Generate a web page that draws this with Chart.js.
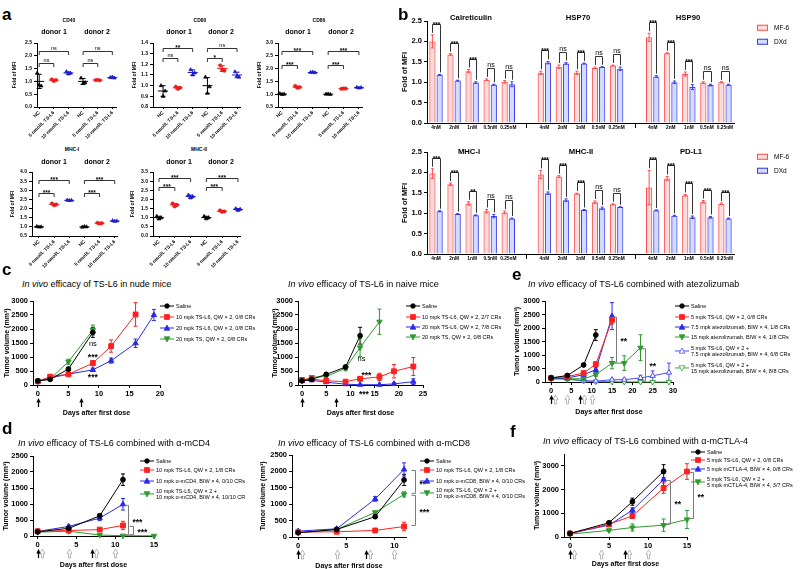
<!DOCTYPE html>
<html>
<head>
<meta charset="utf-8">
<script src="https://cdn.jsdelivr.net/npm/chart.js@4.4.1/dist/chart.umd.min.js"></script>
<style>
  body { margin: 0; width: 800px; height: 569px; position: relative; overflow: hidden; background: #fff;
         font-family: "Liberation Sans", Arial, sans-serif; color: #000; }
  canvas { position: absolute; }
  .t { position: absolute; white-space: nowrap; line-height: 1; }
  .lg { position: absolute; display: flex; align-items: center; white-space: nowrap; font-size: 5.5px; line-height: 1.1; }
  .lg svg { flex: none; }
</style>
</head>
<body>
<script>
// ---------- a: fold of MFI, three replicates per group ----------
const aGroups = ['NC', '5 nmol/L TS-L6', '10 nmol/L TS-L6', 'NC', '5 nmol/L TS-L6', '10 nmol/L TS-L6'];
const aCd40 = [[1.32, 0.86, 0.82], [1.08, 1.02, 1.05], [1.38, 1.29, 1.32], [1.13, 0.92, 0.95], [1.05, 1.06, 1.04], [1.15, 1.17, 1.13]];
const aCd80 = [[1.0, 0.9, 0.95], [0.99, 0.97, 0.98], [1.15, 1.1, 1.12], [1.08, 0.93, 0.99], [1.19, 1.15, 1.14], [1.13, 1.09, 1.08]];
const aCd86 = [[1.02, 0.99, 1.0], [1.32, 1.25, 1.27], [1.85, 1.86, 1.84], [1.0, 1.01, 0.99], [1.21, 1.22, 1.22], [1.27, 1.24, 1.26]];
const aMhc1 = [[1.02, 0.99, 1.0], [2.28, 2.18, 2.22], [2.46, 2.44, 2.45], [0.98, 1.02, 1.0], [1.22, 1.18, 1.2], [1.34, 1.3, 1.32]];
const aMhc2 = [[1.08, 0.93, 1.0], [1.78, 1.62, 1.7], [2.24, 2.08, 2.15], [1.08, 0.94, 1.0], [1.4, 1.32, 1.34], [1.5, 1.4, 1.46]];
// donor 1 NC vs 5, NC vs 10, donor 2 NC vs 5, NC vs 10
const aCd40Sig = ['ns', 'ns', 'ns', 'ns'];
const aCd80Sig = ['ns', '**', '*', 'ns'];
const aCd86Sig = ['***', '***', '***', '***'];
const aMhc1Sig = ['***', '***', '***', '***'];
const aMhc2Sig = ['***', '***', '***', '***'];

// ---------- b: MF-6 vs DXd ----------
const bDoses = ['4nM', '2nM', '1nM', '0.5nM', '0.25nM'];
const bCalMf = [2.0, 1.68, 1.27, 1.06, 1.01], bCalMfErr = [0.16, 0.02, 0.04, 0.02, 0.03];
const bCalDx = [1.18, 1.04, 0.99, 0.94, 0.95], bCalDxErr = [0.01, 0.01, 0.02, 0.01, 0.06];
const bCalSig = ['***', '***', '***', 'ns', 'ns'];
const bHsp70Mf = [1.23, 1.38, 1.23, 1.35, 1.41], bHsp70MfErr = [0.04, 0.04, 0.04, 0.02, 0.01];
const bHsp70Dx = [1.48, 1.46, 1.46, 1.37, 1.33], bHsp70DxErr = [0.03, 0.02, 0.01, 0.01, 0.04];
const bHsp70Sig = ['***', 'ns', '***', 'ns', 'ns'];
const bHsp90Mf = [2.1, 1.71, 1.2, 0.99, 1.0], bHsp90MfErr = [0.1, 0.01, 0.05, 0.02, 0.01];
const bHsp90Dx = [1.14, 1.0, 0.88, 0.93, 0.94], bHsp90DxErr = [0.02, 0.03, 0.06, 0.02, 0.01];
const bHsp90Sig = ['***', '***', '***', 'ns', 'ns'];
const bMhc1Mf = [1.97, 1.71, 1.24, 1.05, 1.02], bMhc1MfErr = [0.12, 0.03, 0.04, 0.04, 0.03];
const bMhc1Dx = [1.05, 0.98, 0.95, 0.93, 0.87], bMhc1DxErr = [0.01, 0.01, 0.01, 0.04, 0.01];
const bMhc1Sig = ['***', '***', '**', 'ns', 'ns'];
const bMhc2Mf = [1.95, 1.9, 1.48, 1.27, 1.22], bMhc2MfErr = [0.1, 0.02, 0.01, 0.03, 0.01];
const bMhc2Dx = [1.49, 1.32, 1.08, 1.12, 1.15], bMhc2DxErr = [0.03, 0.03, 0.01, 0.03, 0.01];
const bMhc2Sig = ['***', '***', '***', 'ns', 'ns'];
const bPdl1Mf = [1.63, 1.85, 1.44, 1.28, 1.23], bPdl1MfErr = [0.42, 0.05, 0.02, 0.03, 0.02];
const bPdl1Dx = [1.07, 0.94, 0.9, 0.9, 0.87], bPdl1DxErr = [0.01, 0.01, 0.03, 0.02, 0.01];
const bPdl1Sig = ['***', '***', '***', '***', '***'];

// ---------- c: nude / naive mice ----------
const cNudeDays = [0, 2, 5, 9, 12, 16, 19];
const cNudeSaline = [150, 200, 570, 1880, null, null, null], cNudeSalineErr = [30, 40, 60, 180];
const cNudeTsl6Lo = [130, 300, 380, 780, 1390, 2520, null], cNudeTsl6LoErr = [20, 50, 40, 90, 220, 420];
const cNudeTsl6Hi = [130, 250, 390, 540, 870, 1490, 2500], cNudeTsl6HiErr = [20, 40, 40, 60, 90, 150, 200];
const cNudeTs = [130, 220, 830, 1960, null, null, null], cNudeTsErr = [20, 40, 90, 180];
const cNudeTicks = [0, 5, 10, 15, 20];
const cNudeLabels = ['Saline', '10 mpk TS-L6, QW × 2, 0/8 CRs', '20 mpk TS-L6, QW × 2, 0/8 CRs', '20 mpk TS, QW × 2, 0/8 CRs'];

const cNaiveDays = [0, 2, 5, 9, 12, 16, 19, 23];
const cNaiveSaline = [150, 200, 380, 640, 1760], cNaiveSalineErr = [20, 30, 50, 70, 300];
const cNaiveTsl6Lo = [180, 210, 150, 120, 220, 290, 490, 660], cNaiveTsl6LoErr = [20, 30, 30, 30, 60, 130, 240, 320];
const cNaiveTsl6Hi = [150, 170, 100, 30, 10, 10, 40, 120], cNaiveTsl6HiErr = [20, 30, 20, 10, 5, 5, 40, 100];
const cNaiveTs = [150, 280, 300, 600, 1340, 2260], cNaiveTsErr = [20, 30, 40, 90, 320, 450];
const cNaiveTicks = [0, 5, 10, 15, 20, 25];
const cNaiveLabels = ['Saline', '10 mpk TS-L6, QW × 2, 2/7 CRs', '20 mpk TS-L6, QW × 2, 7/8 CRs', '20 mpk TS, QW × 2, 0/8 CRs'];
const cDoseTsl6 = [0, 7];

// ---------- e: atezolizumab ----------
const eDays = [0, 4, 8, 11, 15, 18, 22, 25, 29];
const eSaline = [150, 240, 630, 1740], eSalineErr = [20, 30, 40, 200];
const eTsl6 = [150, 200, 330, 660, 2300], eTsl6Err = [20, 30, 40, 80, 150];
const eAtezo75 = [150, 150, 270, 450, 2440], eAtezo75Err = [20, 30, 40, 100, 500];
const eAtezo15 = [120, 120, 120, 270, 700, 700, 1270], eAtezo15Err = [20, 20, 20, 60, 210, 270, 480];
const eCombo75 = [140, 120, 50, 30, 85, 85, 150, 230, 350], eCombo75Err = [20, 20, 20, 20, 30, 40, 100, 180, 350];
const eCombo15 = [120, 100, 40, 15, 10, 5, 5, 0, 0], eCombo15Err = [20, 20, 10, 5, 5, 5, 5, 0, 0];
const eTicks = [0, 5, 10, 15, 20, 25, 30];
const eLabels = ['Saline', '5 mpk TS-L6, QW × 2, 0/8 CRs', '7.5 mpk atezolizumab, BIW × 4, 1/8 CRs',
  '15 mpk atezolizumab, BIW × 4, 1/8 CRs', '5 mpk TS-L6, QW × 2 +\n7.5 mpk atezolizumab, BIW × 4, 6/8 CRs',
  '5 mpk TS-L6, QW × 2 +\n15 mpk atezolizumab, BIW × 4, 8/8 CRs'];

// ---------- d: CD4 / CD8 depletion ----------
const dCd4Days = [0, 4, 8, 11, 15];
const dCd4Saline = [130, 240, 630, 1760], dCd4SalineErr = [20, 40, 60, 180];
const dCd4Tsl6 = [150, 170, 200, 330], dCd4Tsl6Err = [20, 30, 40, 130];
const dCd4Ab = [140, 300, 560, 990], dCd4AbErr = [20, 40, 80, 180];
const dCd4Combo = [120, 150, 30, 10, 5], dCd4ComboErr = [20, 30, 10, 5, 5];
const dCd4Ticks = [0, 5, 10, 15];
const dCd4Labels = ['Saline', '10 mpk TS-L6, QW × 2, 1/8 CRs', '10 mpk α-mCD4, BIW × 4, 0/10 CRs', '10 mpk TS-L6, QW × 2 +\n10 mpk α-mCD4, BIW × 4, 10/10 CR'];

const dCd8Days = [0, 4, 8, 11];
const dCd8Saline = [130, 230, 620, 1740], dCd8SalineErr = [20, 30, 50, 170];
const dCd8Tsl6 = [150, 160, 200, 320], dCd8Tsl6Err = [20, 30, 50, 130];
const dCd8Ab = [180, 250, 1160, 2060], dCd8AbErr = [20, 30, 70, 200];
const dCd8Combo = [130, 230, 750, 1300], dCd8ComboErr = [20, 30, 40, 80];
const dCd8Ticks = [0, 5, 10];
const dCd8Labels = ['Saline', '10 mpk TS-L6, QW × 2, 1/8 CRs', '10 mpk α-mCD8, BIW × 4, 0/10 CRs', '10 mpk TS-L6, QW × 2 +\n10 mpk α-mCD8, BIW × 4, 0/10 CRs'];

// ---------- f: mCTLA-4 ----------
const fDays = [0, 5, 8, 12, 15];
const fSaline = [150, 600, 1490, 2770], fSalineErr = [20, 40, 150, 280];
const fTsl6 = [150, 540, 890, 2060, 2760], fTsl6Err = [20, 40, 100, 220, 330];
const fCtla4 = [150, 500, 1130, 2420], fCtla4Err = [20, 40, 100, 250];
const fCombo = [120, 280, 400, 500, 740], fComboErr = [20, 50, 150, 260, 380];
const fTicks = [0, 5, 10, 15];
const fLabels = ['Saline', '5 mpk TS-L6, QW × 2, 0/8 CRs', '5 mpk mCTLA-4,  BIW × 4, 0/8 CRs', '5 mpk TS-L6, QW × 2 +\n5 mpk mCTLA-4, BIW × 4, 3/7 CRs'];

// dosing days (black = TS-L6, grey = antibody)
const doseTsl6 = [0, 7];
const doseAb = [0, 4, 7, 10];

// =====================================================================
const FONT = '"Liberation Sans", Arial, sans-serif';
Chart.defaults.font.family = FONT;
Chart.defaults.color = '#000';

// canvas placed so that its chart area lands on box.x/y/w/h
function place(box, config) {
  const W = box.w + box.l + box.r, H = box.h + box.t + box.b;
  const cv = document.createElement('canvas');
  cv.width = W; cv.height = H;
  Object.assign(cv.style, {left: (box.x - box.l) + 'px', top: (box.y - box.t) + 'px', width: W + 'px', height: H + 'px'});
  document.body.appendChild(cv);
  const o = config.options;
  o.responsive = false; o.animation = false; o.devicePixelRatio = 1;
  o.layout = {padding: {top: box.t, right: box.r, left: 0, bottom: 0}};
  o.scales.x.afterFit = s => { s.height = box.b; };
  o.scales.y.afterFit = s => { s.width = box.l; };
  o.plugins = Object.assign({legend: {display: false}, tooltip: {enabled: false}}, o.plugins || {});
  return new Chart(cv, config);
}

function valueAxis(min, max, step, size, title, titleSize, digits) {
  return {
    type: 'linear', min, max,
    ticks: {stepSize: step, font: {size, weight: 'bold'}, padding: 2, callback: v => digits == null ? v : v.toFixed(digits)},
    grid: {drawOnChartArea: false, color: '#000', tickLength: 3},
    border: {color: '#000', width: 1},
    title: {display: true, text: title, font: {size: titleSize, weight: 'bold'}, padding: 0}
  };
}

function txt(html, x, y, size, bold, center) {
  const d = document.createElement('div');
  d.className = 't';
  d.innerHTML = html;
  d.style.fontSize = size + 'px';
  d.style.left = x + 'px';
  d.style.top = y + 'px';
  if (bold) d.style.fontWeight = 'bold';
  d.style.transform = center ? 'translate(-50%,-50%)' : 'translateY(-50%)';
  document.body.appendChild(d);
}

function letter(ch, x, baseline) {
  const d = document.createElement('div');
  d.className = 't';
  d.textContent = ch;
  Object.assign(d.style, {fontSize: '17px', fontWeight: 'bold', left: x + 'px', top: (baseline - 14.4) + 'px'});
  document.body.appendChild(d);
}

function errorBars(onTop) {
  const draw = chart => {
    const {ctx, scales: {y}} = chart;
    ctx.save();
    ctx.lineWidth = 1;
    chart.data.datasets.forEach((ds, i) => {
      if (!ds.err) return;
      const meta = chart.getDatasetMeta(i);
      ctx.strokeStyle = ds.borderColor;
      ds.data.forEach((v, j) => {
        const e = ds.err[j];
        if (v == null || !e) return;
        const px = meta.data[j].x;
        const hi = y.getPixelForValue(v + e), lo = y.getPixelForValue(Math.max(v - e, y.min));
        const c = onTop ? 1.5 : 2;
        ctx.beginPath();
        ctx.moveTo(px, hi); ctx.lineTo(px, lo);
        ctx.moveTo(px - c, hi); ctx.lineTo(px + c, hi);
        ctx.moveTo(px - c, lo); ctx.lineTo(px + c, lo);
        ctx.stroke();
      });
    });
    ctx.restore();
  };
  return onTop ? {id: 'errTop', afterDatasetsDraw: draw} : {id: 'errUnder', beforeDatasetsDraw: draw};
}

// ---------- panel a ----------
const aColors = ['#000', '#ee1c1c', '#1c1ccc'];
const aShapes = ['triangle', 'circle', 'triangle'];

function meanSd(groups, sig, levels) {
  return {
    id: 'meanSd',
    afterDatasetsDraw(chart) {
      const {ctx, scales: {x, y}} = chart;
      ctx.save();
      ctx.lineWidth = 1;
      groups.forEach((vals, g) => {
        const m = vals.reduce((a, b) => a + b, 0) / vals.length;
        const sd = Math.sqrt(vals.reduce((a, b) => a + (b - m) ** 2, 0) / (vals.length - 1));
        const px = x.getPixelForValue(g);
        const hi = y.getPixelForValue(m + sd), lo = y.getPixelForValue(m - sd), pm = y.getPixelForValue(m);
        ctx.strokeStyle = aColors[g % 3];
        ctx.beginPath();
        ctx.moveTo(px - 5, pm); ctx.lineTo(px + 5, pm);
        ctx.moveTo(px, hi); ctx.lineTo(px, lo);
        ctx.moveTo(px - 2.5, hi); ctx.lineTo(px + 2.5, hi);
        ctx.moveTo(px - 2.5, lo); ctx.lineTo(px + 2.5, lo);
        ctx.stroke();
      });
      const pairs = [[0, 1, levels[0]], [0, 2, levels[1]], [3, 4, levels[0]], [3, 5, levels[1]]];
      ctx.strokeStyle = '#333';
      ctx.fillStyle = '#000';
      ctx.textAlign = 'center';
      ctx.textBaseline = 'alphabetic';
      pairs.forEach(([i, j, f], k) => {
        const py = Math.round(y.top + (1 - f) * (y.bottom - y.top)) + 0.5;
        const x1 = x.getPixelForValue(i), x2 = x.getPixelForValue(j);
        ctx.beginPath();
        ctx.moveTo(x1, py + 3.5); ctx.lineTo(x1, py); ctx.lineTo(x2, py); ctx.lineTo(x2, py + 3.5);
        ctx.stroke();
        const s = sig[k];
        ctx.font = s === 'ns' ? '5.5px ' + FONT : 'bold 6.5px ' + FONT;
        ctx.fillText(s, (x1 + x2) / 2, s === 'ns' ? py - 1.5 : py + 1.8);
      });
      ctx.restore();
    }
  };
}

function dotChart(box, groups, sig, yr, xr, levels) {
  const spread = [-0.14, 0, 0.14];
  const datasets = [0, 1, 2].map(k => ({
    data: groups.flatMap((vals, g) => g % 3 === k ? vals.map((v, r) => ({x: g + spread[r], y: v})) : []),
    pointStyle: aShapes[k], pointRadius: k === 1 ? 1.7 : 2.1,
    backgroundColor: aColors[k], borderColor: aColors[k], pointBorderWidth: 0.6, clip: false
  }));
  return place(box, {
    type: 'scatter',
    data: {datasets},
    options: {
      scales: {
        x: {type: 'linear', min: xr[0], max: xr[1],
            afterBuildTicks: s => { s.ticks = aGroups.map((_, i) => ({value: i})); },
            ticks: {callback: v => aGroups[v], minRotation: 45, maxRotation: 45, autoSkip: false, font: {size: 4.8, weight: 'bold'}, padding: 1},
            grid: {drawOnChartArea: false, color: '#000', tickLength: 2}, border: {color: '#000'}},
        y: valueAxis(yr[0], yr[1], yr[2], 5, 'Fold of MFI', 5, 1)
      }
    },
    plugins: [meanSd(groups, sig, levels)]
  });
}

dotChart({x: 37, y: 43, w: 79, h: 64, l: 25, b: 34, t: 8, r: 8}, aCd40, aCd40Sig, [0, 2.5, 0.5], [-0.15, 5.25], [0.68, 0.88]);
dotChart({x: 153, y: 43, w: 87, h: 64, l: 21, b: 34, t: 8, r: 8}, aCd80, aCd80Sig, [0.8, 1.4, 0.1], [-0.68, 5.2], [0.77, 0.92]);
dotChart({x: 278, y: 43, w: 84, h: 64, l: 21, b: 34, t: 8, r: 8}, aCd86, aCd86Sig, [0.5, 3.0, 0.5], [-0.26, 5.2], [0.66, 0.88]);
dotChart({x: 32, y: 172, w: 85, h: 64, l: 22, b: 34, t: 8, r: 8}, aMhc1, aMhc1Sig, [0.5, 4.0, 0.5], [-0.46, 5.15], [0.67, 0.87]);
dotChart({x: 153, y: 172, w: 87, h: 64, l: 23, b: 34, t: 8, r: 8}, aMhc2, aMhc2Sig, [0, 3.5, 0.5], [-0.38, 5.13], [0.76, 0.91]);

// ---------- panel b ----------
const bRed = '#ff4d4d', bBlue = '#3b3bf0';
function fmfiChart(box, parts) {
  const labels = [], mf = [], mfErr = [], dx = [], dxErr = [], sig = [];
  parts.forEach((p, k) => {
    if (k) { labels.push(''); mf.push(null); mfErr.push(null); dx.push(null); dxErr.push(null); sig.push(null); }
    labels.push(...bDoses); mf.push(...p[0]); mfErr.push(...p[1]); dx.push(...p[2]); dxErr.push(...p[3]); sig.push(...p[4]);
  });
  const bar = (label, data, err, color, fill) => ({label, data, err, borderColor: color, backgroundColor: fill, borderWidth: 1, barPercentage: 0.86, categoryPercentage: 0.8});
  return place(box, {
    type: 'bar',
    data: {labels, datasets: [bar('MF-6', mf, mfErr, bRed, 'rgba(255,120,120,0.25)'), bar('DXd', dx, dxErr, bBlue, 'rgba(110,140,255,0.3)')]},
    options: {
      scales: {
        x: {ticks: {font: {size: 4.8, weight: 'bold'}, padding: 2, maxRotation: 0, autoSkip: false},
            grid: {display: false, drawTicks: false, tickLength: 0}, border: {color: '#000'}},
        y: valueAxis(0, 2.5, 0.5, 7.5, 'Fold of MFI', 7.5, 1)
      }
    },
    plugins: [errorBars(true), {
      id: 'bSig',
      afterDraw(chart) {
        const {ctx, scales: {x, y}} = chart;
        const a = chart.getDatasetMeta(0).data, b = chart.getDatasetMeta(1).data;
        ctx.save();
        ctx.strokeStyle = '#333'; ctx.lineWidth = 1; ctx.fillStyle = '#000'; ctx.textAlign = 'center';
        sig.forEach((s, i) => {
          if (!s) return;
          const ta = mf[i] + mfErr[i], tb = dx[i] + dxErr[i];
          const top = Math.round(y.getPixelForValue(Math.max(ta, tb) + 0.27)) + 0.5;
          const xa = Math.round(a[i].x) + 0.5, xb = Math.round(b[i].x) + 0.5;
          ctx.beginPath();
          ctx.moveTo(xa, y.getPixelForValue(ta + 0.05)); ctx.lineTo(xa, top); ctx.lineTo(xb, top); ctx.lineTo(xb, y.getPixelForValue(tb + 0.05));
          ctx.stroke();
          ctx.font = s === 'ns' ? '7px ' + FONT : 'bold 6.5px ' + FONT;
          ctx.fillText(s, (xa + xb) / 2, s === 'ns' ? top - 2 : top + 2);
        });
        ctx.strokeStyle = '#000';
        chart.data.labels.forEach((l, i) => {
          if (l) return;
          const px = Math.round(x.getPixelForValue(i)) + 0.5;
          ctx.beginPath(); ctx.moveTo(px, y.bottom + 1); ctx.lineTo(px, y.bottom + 5); ctx.stroke();
        });
        ctx.restore();
      }
    }]
  });
}

fmfiChart({x: 427, y: 21, w: 307, h: 102, l: 27, b: 12, t: 12, r: 6}, [
  [bCalMf, bCalMfErr, bCalDx, bCalDxErr, bCalSig],
  [bHsp70Mf, bHsp70MfErr, bHsp70Dx, bHsp70DxErr, bHsp70Sig],
  [bHsp90Mf, bHsp90MfErr, bHsp90Dx, bHsp90DxErr, bHsp90Sig]]);
fmfiChart({x: 427, y: 152, w: 307, h: 102, l: 27, b: 12, t: 12, r: 6}, [
  [bMhc1Mf, bMhc1MfErr, bMhc1Dx, bMhc1DxErr, bMhc1Sig],
  [bMhc2Mf, bMhc2MfErr, bMhc2Dx, bMhc2DxErr, bMhc2Sig],
  [bPdl1Mf, bPdl1MfErr, bPdl1Dx, bPdl1DxErr, bPdl1Sig]]);

// ---------- tumour growth panels ----------
function arrow(ctx, px, top, bottom, solid) {
  px = Math.round(px) + 0.5;
  if (solid) {
    ctx.strokeStyle = '#000'; ctx.fillStyle = '#000'; ctx.lineWidth = 1.2;
    ctx.beginPath(); ctx.moveTo(px, bottom); ctx.lineTo(px, top + 3); ctx.stroke();
    ctx.beginPath(); ctx.moveTo(px, top); ctx.lineTo(px - 2.2, top + 4.5); ctx.lineTo(px + 2.2, top + 4.5); ctx.closePath(); ctx.fill();
  } else {
    ctx.strokeStyle = '#a8a8a8'; ctx.lineWidth = 0.8;
    ctx.beginPath();
    ctx.moveTo(px, top); ctx.lineTo(px + 2.5, top + 4.5); ctx.lineTo(px + 1, top + 4.5); ctx.lineTo(px + 1, bottom);
    ctx.lineTo(px - 1, bottom); ctx.lineTo(px - 1, top + 4.5); ctx.lineTo(px - 2.5, top + 4.5); ctx.closePath();
    ctx.stroke();
  }
}

function growthExtras(o) {
  return {
    id: 'extras',
    afterDraw(chart) {
      const {ctx, scales: {x, y}, chartArea} = chart;
      ctx.save();
      const top = chartArea.bottom + 13, bottom = chartArea.bottom + 22;
      (o.gray || []).forEach(d => arrow(ctx, x.getPixelForValue(d) + (o.black.includes(d) ? 4 : 0), top, bottom, false));
      o.black.forEach(d => arrow(ctx, x.getPixelForValue(d), top, bottom, true));
      (o.brackets || []).forEach(b => {
        const i = chart.data.labels.indexOf(b.day);
        const va = chart.data.datasets[b.a].data[i], vb = chart.data.datasets[b.b].data[i];
        const bx = Math.round(x.getPixelForValue(b.day + b.dx)) + 0.5;
        const ya = y.getPixelForValue(va) + 1, yb = y.getPixelForValue(vb) - 1;
        ctx.strokeStyle = '#7a7a7a'; ctx.lineWidth = 1;
        ctx.beginPath(); ctx.moveTo(bx - 4, ya); ctx.lineTo(bx, ya); ctx.lineTo(bx, yb); ctx.lineTo(bx - 4, yb); ctx.stroke();
        ctx.fillStyle = '#000'; ctx.font = 'bold 8.5px ' + FONT; ctx.textAlign = 'left'; ctx.textBaseline = 'alphabetic';
        ctx.fillText(b.text, bx + 4, (ya + yb) / 2 + 4.7);
      });
      (o.notes || []).forEach(n => {
        const px = x.getPixelForValue(n.day), py = y.getPixelForValue(n.v);
        ctx.fillStyle = '#000'; ctx.textAlign = 'center'; ctx.textBaseline = 'alphabetic';
        if (n.text === 'ns') { ctx.font = '7.5px ' + FONT; ctx.fillText(n.text, px, py + 2.5); }
        else { ctx.font = 'bold 8.5px ' + FONT; ctx.fillText(n.text, px, py + 4.7); }
      });
      ctx.restore();
    }
  };
}

function growthChart(box, days, series, o) {
  const datasets = series.map(sr => ({
    data: sr.data, err: sr.err,
    borderColor: sr.color, backgroundColor: sr.color,
    pointBackgroundColor: sr.open ? '#fff' : sr.color, pointBorderColor: sr.color,
    pointStyle: sr.shape, pointRotation: sr.down ? 180 : 0,
    pointRadius: sr.shape === 'rect' ? 3.4 : sr.shape === 'circle' ? 2.4 : 3.1,
    pointBorderWidth: 1, borderWidth: 1, clip: false
  }));
  return place(box, {
    type: 'line',
    data: {labels: days, datasets},
    options: {
      scales: {
        x: {type: 'linear', min: o.xMin, max: o.xMax,
            afterBuildTicks: sc => { sc.ticks = o.xTicks.map(v => ({value: v})); },
            ticks: {font: {size: 7.5, weight: 'bold'}, padding: 1, maxRotation: 0, autoSkip: false},
            grid: {drawOnChartArea: false, color: '#000', tickLength: 3}, border: {color: '#000'},
            title: {display: true, text: 'Days after first dose', font: {size: 7, weight: 'bold'}, padding: 0}},
        y: valueAxis(0, o.yMax, 500, 7.5, 'Tumor volume (mm³)', 7, null)
      }
    },
    plugins: [errorBars(false), growthExtras(o)]
  });
}

function markerSvg(ds) {
  const c = ds.borderColor, f = ds.pointBackgroundColor;
  let shape;
  if (ds.pointStyle === 'circle') shape = `<circle cx="7" cy="4" r="2.3" fill="${f}" stroke="${c}" stroke-width="0.8"/>`;
  else if (ds.pointStyle === 'rect') shape = `<rect x="4.6" y="1.6" width="4.8" height="4.8" fill="${f}" stroke="${c}" stroke-width="0.8"/>`;
  else if (ds.pointRotation) shape = `<polygon points="7,7 9.8,1.8 4.2,1.8" fill="${f}" stroke="${c}" stroke-width="0.8"/>`;
  else shape = `<polygon points="7,1 9.8,6.2 4.2,6.2" fill="${f}" stroke="${c}" stroke-width="0.8"/>`;
  return `<svg width="14" height="8" viewBox="0 0 14 8"><line x1="0" y1="4" x2="14" y2="4" stroke="${c}" stroke-width="1"/>${shape}</svg>`;
}

function legend(chart, x, ys, labels) {
  chart.data.datasets.forEach((ds, i) => {
    const row = document.createElement('div');
    row.className = 'lg';
    row.style.left = (x - 7) + 'px';
    row.style.top = ys[i] + 'px';
    row.style.transform = 'translateY(-50%)';
    row.innerHTML = markerSvg(ds) + '<span style="margin-left:2px">' + labels[i].replace('\n', '<br>') + '</span>';
    document.body.appendChild(row);
  });
}

const K = '#000', R = '#ff2020', B = '#2a2ae6', G = '#2e9a2e', BO = '#4a4aff', GO = '#3aa63a';
const sr = (data, err, color, shape, extra) => Object.assign({data, err, color, shape}, extra || {});

const cNude = growthChart({x: 33, y: 301, w: 127, h: 84, l: 30, b: 32, t: 8, r: 10}, cNudeDays, [
  sr(cNudeSaline, cNudeSalineErr, K, 'circle'),
  sr(cNudeTsl6Lo, cNudeTsl6LoErr, R, 'rect'),
  sr(cNudeTsl6Hi, cNudeTsl6HiErr, B, 'triangle'),
  sr(cNudeTs, cNudeTsErr, G, 'triangle', {down: true})
], {xMin: -0.8, xMax: 20, xTicks: cNudeTicks, yMax: 3000, black: cDoseTsl6,
    notes: [{day: 9, v: 1500, text: 'ns'}, {day: 9, v: 1050, text: '***'}, {day: 9, v: 360, text: '***'}]});
legend(cNude, 167, [306, 317, 328, 339], cNudeLabels);

const cNaive = growthChart({x: 298, y: 301, w: 125, h: 84, l: 27, b: 32, t: 8, r: 10}, cNaiveDays, [
  sr(cNaiveSaline, cNaiveSalineErr, K, 'circle'),
  sr(cNaiveTsl6Lo, cNaiveTsl6LoErr, R, 'rect'),
  sr(cNaiveTsl6Hi, cNaiveTsl6HiErr, B, 'triangle'),
  sr(cNaiveTs, cNaiveTsErr, G, 'triangle', {down: true})
], {xMin: -0.83, xMax: 25, xTicks: cNaiveTicks, yMax: 3000, black: cDoseTsl6,
    notes: [{day: 12.3, v: 930, text: 'ns'}, {day: 13.3, v: 430, text: '***'}, {day: 12.8, v: -250, text: '***'}]});
legend(cNaive, 413, [306, 317, 327, 337], cNaiveLabels);

const eChart = growthChart({x: 545, y: 301, w: 128, h: 81, l: 32, b: 34, t: 8, r: 10}, eDays, [
  sr(eSaline, eSalineErr, K, 'circle'),
  sr(eTsl6, eTsl6Err, R, 'rect'),
  sr(eAtezo75, eAtezo75Err, B, 'triangle'),
  sr(eAtezo15, eAtezo15Err, G, 'triangle', {down: true}),
  sr(eCombo75, eCombo75Err, BO, 'triangle', {open: true}),
  sr(eCombo15, eCombo15Err, GO, 'triangle', {open: true, down: true})
], {xMin: -1.5, xMax: 30, xTicks: eTicks, yMax: 3000, black: doseTsl6, gray: doseAb,
    brackets: [{day: 15, a: 2, b: 3, dx: 1.0, text: '**'}, {day: 22, a: 3, b: 5, dx: 1.0, text: '**'}]});
legend(eChart, 682, [306, 317, 327, 337, 351, 368], eLabels);

const dCd4 = growthChart({x: 33, y: 456, w: 121, h: 80, l: 31, b: 33, t: 8, r: 10}, dCd4Days, [
  sr(dCd4Saline, dCd4SalineErr, K, 'circle'),
  sr(dCd4Tsl6, dCd4Tsl6Err, R, 'rect'),
  sr(dCd4Ab, dCd4AbErr, B, 'triangle'),
  sr(dCd4Combo, dCd4ComboErr, G, 'triangle', {down: true})
], {xMin: -0.6, xMax: 15, xTicks: dCd4Ticks, yMax: 2500, black: doseTsl6, gray: doseAb,
    brackets: [{day: 11, a: 2, b: 3, dx: 0.6, text: '***'}, {day: 11, a: 1, b: 3, dx: 1.3, text: '***'}]});
legend(dCd4, 147, [461, 470, 481, 494], dCd4Labels);

const dCd8 = growthChart({x: 292, y: 455, w: 114, h: 82, l: 33, b: 33, t: 8, r: 36}, dCd8Days, [
  sr(dCd8Saline, dCd8SalineErr, K, 'circle'),
  sr(dCd8Tsl6, dCd8Tsl6Err, R, 'rect'),
  sr(dCd8Ab, dCd8AbErr, B, 'triangle'),
  sr(dCd8Combo, dCd8ComboErr, G, 'triangle', {down: true})
], {xMin: -0.64, xMax: 11.2, xTicks: dCd8Ticks, yMax: 2500, black: doseTsl6, gray: doseAb,
    brackets: [{day: 11, a: 2, b: 3, dx: 1.1, text: '**'}, {day: 11, a: 3, b: 1, dx: 1.1, text: '***'}]});
legend(dCd8, 427, [461, 470, 481, 493], dCd8Labels);

const fChart = growthChart({x: 564, y: 454, w: 123, h: 83, l: 31, b: 31, t: 8, r: 26}, fDays, [
  sr(fSaline, fSalineErr, K, 'circle'),
  sr(fTsl6, fTsl6Err, R, 'rect'),
  sr(fCtla4, fCtla4Err, B, 'triangle'),
  sr(fCombo, fComboErr, G, 'triangle', {down: true})
], {xMin: -0.77, xMax: 15, xTicks: fTicks, yMax: 3500, black: doseTsl6, gray: doseAb,
    brackets: [{day: 12, a: 2, b: 3, dx: 0.8, text: '**'}, {day: 15, a: 1, b: 3, dx: 0.8, text: '**'}]});
legend(fChart, 698, [452, 460, 469, 482], fLabels);

// ---------- text ----------
letter('a', 2, 20); letter('b', 398, 20); letter('c', 2, 275);
letter('e', 512, 280); letter('d', 2, 434); letter('f', 510, 437);

txt('CD40', 69, 20, 5, true, true); txt('CD80', 200, 20, 5, true, true); txt('CD86', 319, 20, 5, true, true);
txt('MHC-I', 72, 149, 5, true, true); txt('MHC-II', 199, 149, 5, true, true);
[[54, 97, 31], [179, 221, 31], [298, 341, 31], [54, 97, 161], [179, 221, 161]].forEach(([d1, d2, yy]) => {
  txt('donor 1', d1, yy, 7, true, true);
  txt('donor 2', d2, yy, 7, true, true);
});

txt('Calreticulin', 471, 18, 7.7, true, true); txt('HSP70', 578, 18, 7.7, true, true); txt('HSP90', 688, 18, 7.7, true, true);
txt('MHC-I', 469, 152, 7.7, true, true); txt('MHC-II', 581, 152, 7.7, true, true); txt('PD-L1', 691, 152, 7.7, true, true);
[[28, 42], [157, 171]].forEach(([y1, y2]) => {
  txt('<span style="display:inline-block;width:9px;height:4px;border:1px solid ' + bRed + ';background:rgba(255,120,120,0.25);vertical-align:middle;margin-right:6px"></span>MF-6', 757, y1, 6.5, false, false);
  txt('<span style="display:inline-block;width:9px;height:4px;border:1px solid ' + bBlue + ';background:rgba(110,140,255,0.3);vertical-align:middle;margin-right:6px"></span>DXd', 757, y2, 6.5, false, false);
});

txt('<i>In vivo</i> efficacy of TS-L6 in nude mice', 22, 284, 9, false, false);
txt('<i>In vivo</i> efficacy of TS-L6 in naive mice', 288, 284, 9, false, false);
txt('<i>In vivo</i> efficacy of TS-L6 combined with atezolizumab', 528, 284, 9, false, false);
txt('<i>In vivo</i> efficacy of TS-L6 combined with α-mCD4', 18, 443, 9, false, false);
txt('<i>In vivo</i> efficacy of TS-L6 combined with α-mCD8', 278, 443, 9, false, false);
txt('<i>In vivo</i> efficacy of TS-L6 combined with α-mCTLA-4', 543, 441, 9, false, false);
</script>
</body>
</html>
